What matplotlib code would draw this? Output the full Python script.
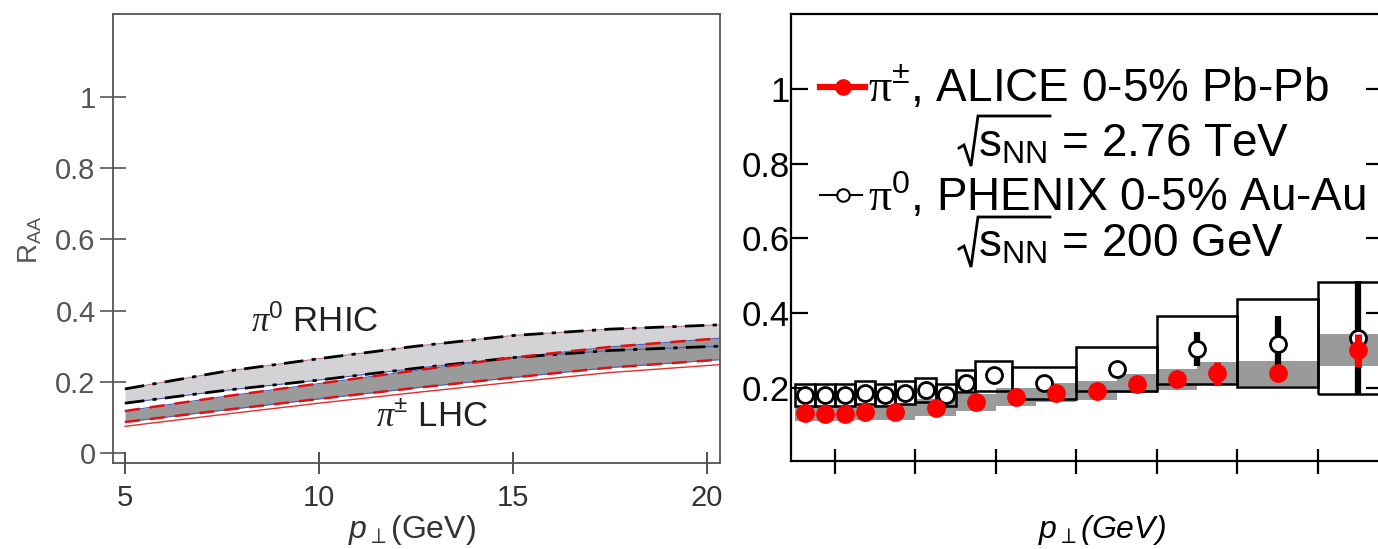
import matplotlib
matplotlib.use("Agg")
import matplotlib.pyplot as plt
from matplotlib.lines import Line2D
from matplotlib.patches import Rectangle

W, H = 1378, 549

plt.rcParams['font.family'] = ['Liberation Sans', 'DejaVu Sans']
plt.rcParams['mathtext.fontset'] = 'custom'
plt.rcParams['mathtext.rm'] = 'Liberation Sans'
plt.rcParams['mathtext.it'] = 'Liberation Sans:italic'
plt.rcParams['mathtext.sf'] = 'Liberation Serif:italic'
plt.rcParams['mathtext.cal'] = 'Liberation Serif'
plt.rcParams['mathtext.fallback'] = 'stixsans'

# ── left panel: model bands ─────────────────────────────────────────────
PT_TH   = [5.0, 7.5, 10.0, 12.5, 15.0, 17.5, 20.3]
RHIC_HI = [0.180, 0.228, 0.265, 0.300, 0.330, 0.348, 0.360]
RHIC_LO = [0.140, 0.175, 0.205, 0.238, 0.268, 0.288, 0.300]
LHC_HI  = [0.118, 0.158, 0.195, 0.232, 0.268, 0.298, 0.322]
LHC_LO  = [0.087, 0.120, 0.152, 0.183, 0.212, 0.240, 0.262]
LHC_EDGE = [0.075, 0.108, 0.140, 0.170, 0.199, 0.226, 0.248]

# ── right panel: data ───────────────────────────────────────────────────
ALICE_PT  = [1.25, 1.75, 2.25, 2.75, 3.5, 4.5, 5.5, 6.5, 7.5, 8.5, 9.5, 10.5, 11.5, 13.0, 15.0]
ALICE_R   = [0.133, 0.131, 0.131, 0.135, 0.135, 0.148, 0.162, 0.177, 0.188, 0.193, 0.212, 0.224, 0.239, 0.239, 0.301]
ALICE_STAT = [0.004, 0.004, 0.004, 0.004, 0.004, 0.005, 0.005, 0.006, 0.006, 0.007, 0.008, 0.012, 0.030, 0.012, 0.044]
ALICE_SYS = [0.020, 0.020, 0.020, 0.020, 0.020, 0.022, 0.022, 0.024, 0.025, 0.025, 0.026, 0.028, 0.030, 0.033, 0.043]
ALICE_HW  = [0.25, 0.25, 0.25, 0.25, 0.5, 0.5, 0.5, 0.5, 0.5, 0.5, 0.5, 0.5, 0.5, 1.0, 1.0]

PHENIX_PT = [1.25, 1.75, 2.25, 2.75, 3.25, 3.75, 4.25, 4.75, 5.25, 5.95, 7.2, 9.0, 11.0, 13.0, 15.0]
PHENIX_R  = [0.181, 0.181, 0.181, 0.187, 0.181, 0.188, 0.195, 0.181, 0.213, 0.235, 0.214, 0.252, 0.304, 0.318, 0.335]
PHENIX_STAT = [0.004, 0.004, 0.004, 0.004, 0.004, 0.004, 0.005, 0.005, 0.006, 0.007, 0.008, 0.010, 0.045, 0.075, 0.150]
PHENIX_BOX_LO = [1.0, 1.5, 2.0, 2.5, 3.0, 3.5, 4.0, 4.5, 5.0, 5.48, 6.39, 8.0, 10.0, 12.0, 14.0]
PHENIX_BOX_HI = [1.5, 2.0, 2.5, 3.0, 3.5, 4.0, 4.5, 5.0, 5.48, 6.39, 8.0, 10.0, 12.0, 14.0, 16.0]
PHENIX_BOX_TOP = [0.211, 0.211, 0.211, 0.220, 0.211, 0.220, 0.226, 0.211, 0.249, 0.273, 0.255, 0.309, 0.393, 0.439, 0.483]
PHENIX_BOX_BOT = [0.153, 0.153, 0.153, 0.157, 0.153, 0.157, 0.162, 0.153, 0.189, 0.193, 0.171, 0.193, 0.211, 0.204, 0.184]

fig = plt.figure(figsize=(W / 100, H / 100), dpi=100)
fig.patch.set_facecolor("white")


def box(l, t, r, b):
    return [l / W, 1 - b / H, (r - l) / W, (b - t) / H]


def fpos(x, y):
    return x / W, 1 - y / H


def radical(x0, base, x1):
    # hand-drawn square-root sign (pixel coords, y down)
    xs = [x0 - 3, x0 + 2, x0 + 9, x0 + 16, x1]
    ys = [base - 8, base - 11, base + 10, base - 40, base - 40]
    fig.add_artist(Line2D([x / W for x in xs], [1 - y / H for y in ys],
                          color="black", lw=2.0, solid_joinstyle="miter",
                          transform=fig.transFigure))


# ── left ────────────────────────────────────────────────────────────────
ax1 = fig.add_axes(box(113, 14, 720, 463))
ax1.fill_between(PT_TH, RHIC_LO, RHIC_HI, color="#d3d3d5", lw=0, zorder=1)
ax1.fill_between(PT_TH, LHC_LO, LHC_HI, color="#9a9a9a", lw=0, zorder=2)

ax1.plot(PT_TH, RHIC_HI, color="#c07090", lw=0.8, zorder=3)
ax1.plot(PT_TH, RHIC_LO, color="#4a5fc1", lw=0.8, zorder=3)
ax1.plot(PT_TH, LHC_HI, color="#4a5fc1", lw=0.8, zorder=3)
ax1.plot(PT_TH, LHC_LO, color="#4a5fc1", lw=0.8, zorder=3)
ax1.plot(PT_TH, LHC_EDGE, color="#e03030", lw=1.0, zorder=3)

dashdot = (0, (7, 3, 1.5, 3))
ax1.plot(PT_TH, RHIC_HI, color="black", lw=2.0, ls=dashdot, zorder=4)
ax1.plot(PT_TH, RHIC_LO, color="black", lw=2.0, ls=dashdot, zorder=4)
ax1.plot(PT_TH, LHC_HI, color="#e01010", lw=1.8, ls=(0, (6, 4)), zorder=4)
ax1.plot(PT_TH, LHC_LO, color="#e01010", lw=1.8, ls=(0, (6, 4)), zorder=4)

ax1.text(9.9, 0.37, r"$\mathsf{\pi}^{0}$ RHIC", ha="center", va="center",
         fontsize=25, color="#222222")
ax1.text(12.9, 0.102, r"$\mathsf{\pi}^{\pm}$ LHC", ha="center", va="center",
         fontsize=25, color="#222222")

ax1.set_xlim(4.69, 20.34)
ax1.set_ylim(-0.028, 1.233)
ax1.set_xticks([5, 10, 15, 20])
ax1.set_xticklabels(["5", "10", "15", "20"])
ax1.set_yticks([0, 0.2, 0.4, 0.6, 0.8, 1.0])
ax1.set_yticklabels(["0", "0.2", "0.4", "0.6", "0.8", "1"])
for sp in ax1.spines.values():
    sp.set_color("#555555")
    sp.set_linewidth(1.3)
ax1.tick_params(axis="x", direction="inout", length=16, width=1.2,
                colors="#333333", labelsize=21, pad=7, labelcolor="#333333")
ax1.tick_params(axis="y", direction="inout", length=19, width=1.2,
                colors="#555555", labelsize=21, pad=3, labelcolor="#555555")

fig.text(*fpos(412, 530), r"$p_{\perp}$(GeV)", ha="center", va="center",
         fontsize=23, color="#333333")
fig.text(*fpos(30, 240), r"$\mathrm{R}_{\mathrm{AA}}$", ha="center", va="center",
         fontsize=20, color="#555555", rotation=90)

# ── right ───────────────────────────────────────────────────────────────
ax2 = fig.add_axes(box(791, 14, 1383, 461))

for x, y, s, hw in zip(ALICE_PT, ALICE_R, ALICE_SYS, ALICE_HW):
    ax2.add_patch(Rectangle((x - hw, y - s), 2 * hw, 2 * s,
                            fc="#9a9a9a", ec="none", zorder=1))

for lo, hi, top, bot in zip(PHENIX_BOX_LO, PHENIX_BOX_HI, PHENIX_BOX_TOP, PHENIX_BOX_BOT):
    ax2.add_patch(Rectangle((lo, bot), hi - lo, top - bot,
                            fill=False, ec="black", lw=1.8, zorder=2))

ax2.errorbar(PHENIX_PT, PHENIX_R, yerr=PHENIX_STAT, fmt="none",
             ecolor="black", elinewidth=4.5, capsize=0, zorder=3)
ax2.plot(PHENIX_PT, PHENIX_R, "o", ms=11.5, mfc="white", mec="black",
         mew=2.0, ls="none", zorder=4)
ax2.errorbar(ALICE_PT, ALICE_R, yerr=ALICE_STAT, fmt="none",
             ecolor="#ff0000", elinewidth=5, capsize=0, zorder=5)
ax2.plot(ALICE_PT, ALICE_R, "o", ms=12.5, color="#ff0000", ls="none", zorder=6)

ax2.set_xlim(0.907, 15.615)
ax2.set_ylim(0.005, 1.2)
ax2.set_xticks([2, 4, 6, 8, 10, 12, 14])
ax2.set_xticklabels([])
ax2.set_yticks([0.2, 0.4, 0.6, 0.8, 1.0])
ax2.set_yticklabels(["0.2", "0.4", "0.6", "0.8", "1"])
for sp in ax2.spines.values():
    sp.set_linewidth(1.6)
ax2.tick_params(axis="x", direction="inout", length=18, width=1.6)
ax2.tick_params(axis="y", direction="in", length=12, width=1.6,
                labelsize=25, pad=1, right=True)

# legend, drawn by hand
fig.add_artist(Line2D([820 / W, 865 / W], [1 - 87 / H] * 2, color="#ff0000",
                      lw=4.5, transform=fig.transFigure))
fig.add_artist(Line2D([843 / W], [1 - 87 / H], marker="o", ms=11, color="#ff0000",
                      transform=fig.transFigure))
fig.add_artist(Line2D([820 / W, 862 / W], [1 - 195 / H] * 2, color="black",
                      lw=1.5, transform=fig.transFigure))
fig.add_artist(Line2D([843 / W], [1 - 195 / H], marker="o", ms=9, mfc="white",
                      mec="black", mew=1.5, transform=fig.transFigure))

fig.text(*fpos(868, 102), r"$\mathcal{\pi}^{\pm}$, ALICE 0-5% Pb-Pb",
         ha="left", va="baseline", fontsize=33)
fig.text(*fpos(978, 156), r"s$_{\mathrm{NN}}$ = 2.76 TeV",
         ha="left", va="baseline", fontsize=33)
radical(962, 156, 1050)
fig.text(*fpos(868, 211), r"$\mathcal{\pi}^{0}$, PHENIX 0-5% Au-Au",
         ha="left", va="baseline", fontsize=33)
fig.text(*fpos(978, 257), r"s$_{\mathrm{NN}}$ = 200 GeV",
         ha="left", va="baseline", fontsize=33)
radical(962, 257, 1050)

fig.text(*fpos(1102, 530), r"$p_{\perp}$(GeV)", ha="center", va="center",
         fontsize=23, style="italic")

fig.savefig("out.png", dpi=100, facecolor="white")
plt.close(fig)
